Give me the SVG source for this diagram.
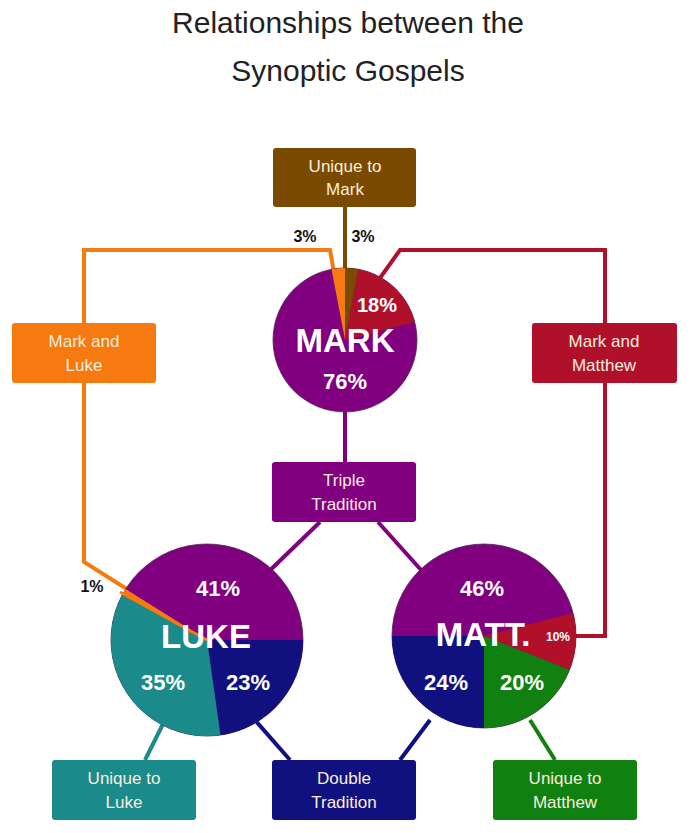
<svg xmlns="http://www.w3.org/2000/svg" width="692" height="833" viewBox="0 0 692 833">
<style>
.t{font-family:"Liberation Sans",Arial,sans-serif;text-anchor:middle}
.bx{font-size:17px;fill:#fbeede}
.p{fill:#fff;font-weight:bold}
.k{font-size:16px;font-weight:bold;fill:#111}
.c{fill:none;stroke-width:4}
.s{stroke:#4a2a4a;stroke-width:0.8}
</style>
<rect width="692" height="833" fill="#fff"/>
<text class="t" x="348" y="33" font-size="30" fill="#222">Relationships between the</text>
<text class="t" x="348" y="81" font-size="30" fill="#222">Synoptic Gospels</text>
<g id="connectors">
<polyline class="c" stroke="#f67a10" points="84,323 84,250 330,250 337,290"/>
<polyline class="c" stroke="#f67a10" points="84,383 84,562 160,610"/>
<polyline class="c" stroke="#7a4a00" points="345,207 345,290"/>
<polyline class="c" stroke="#b0102a" points="375,285 400,250 605,250 605,323"/>
<polyline class="c" stroke="#b0102a" points="605,383 605,636 570,636"/>
<polyline class="c" stroke="#800080" points="345,400 345,462"/>
<polyline class="c" stroke="#800080" points="320,522 260,580"/>
<polyline class="c" stroke="#800080" points="378,522 430,580"/>
<polyline class="c" stroke="#1a8a8a" points="165,720 145,760"/>
<polyline class="c" stroke="#10107f" points="255,720 290,760"/>
<polyline class="c" stroke="#10107f" points="430,720 400,760"/>
<polyline class="c" stroke="#108010" points="530,720 555,760"/>
</g>
<g id="mark">
<circle cx="345" cy="340" r="72" fill="#800080" class="s"/>
<path d="M345,340 L331.5,269.3 A72,72 0 0 1 345,268 Z" fill="#f67a10"/>
<path d="M345,340 L345,268 A72,72 0 0 1 358.5,269.3 Z" fill="#7a4a00"/>
<path d="M345,340 L358.5,269.3 A72,72 0 0 1 414.7,322.1 Z" fill="#b0102a"/>
<text class="t p" x="377" y="312" font-size="20">18%</text>
<text class="t p" x="345" y="352" font-size="33">MARK</text>
<text class="t p" x="345" y="389" font-size="22">76%</text>
</g>
<g id="luke">
<circle cx="207" cy="640" r="96" fill="#800080" class="s"/>
<path d="M207,640 L303,640 A96,96 0 0 1 220.4,735.1 Z" fill="#10107f"/>
<path d="M207,640 L220.4,735.1 A96,96 0 0 1 122.2,595 Z" fill="#1a8a8a"/>
<path d="M207,640 L122.2,595 A96,96 0 0 1 125.6,589.1 Z" fill="#f67a10"/>
<line x1="120" y1="592" x2="207" y2="640" stroke="#f67a10" stroke-width="3"/>
<text class="t p" x="218" y="596" font-size="22">41%</text>
<text class="t p" x="206" y="648" font-size="33">LUKE</text>
<text class="t p" x="163" y="690" font-size="22">35%</text>
<text class="t p" x="248" y="690" font-size="22">23%</text>
</g>
<g id="matt">
<circle cx="484" cy="636" r="92" fill="#800080" class="s"/>
<path d="M484,636 L573.1,613 A92,92 0 0 1 569.5,669.8 Z" fill="#b0102a"/>
<path d="M484,636 L569.5,669.8 A92,92 0 0 1 484,728 Z" fill="#108010"/>
<path d="M484,636 L484,728 A92,92 0 0 1 392,636 Z" fill="#10107f"/>
<text class="t p" x="482" y="596" font-size="22">46%</text>
<text class="t p" x="483" y="646" font-size="33">MATT.</text>
<text class="t p" x="558" y="641" font-size="12">10%</text>
<text class="t p" x="446" y="690" font-size="22">24%</text>
<text class="t p" x="522" y="690" font-size="22">20%</text>
</g>
<g id="labels">
<text class="t k" x="305" y="242">3%</text>
<text class="t k" x="363" y="242">3%</text>
<text class="t k" x="92" y="592">1%</text>
</g>
<g id="unique-mark"><rect x="273" y="148" width="143" height="59" rx="3" fill="#7a4a00"/>
<text class="t bx" x="345" y="172">Unique to</text><text class="t bx" x="345" y="195">Mark</text></g>
<g id="mark-luke"><rect x="12" y="323" width="144" height="60" rx="3" fill="#f67a10"/>
<text class="t bx" x="84" y="347">Mark and</text><text class="t bx" x="84" y="371">Luke</text></g>
<g id="mark-matthew"><rect x="532" y="323" width="145" height="60" rx="3" fill="#b0102a"/>
<text class="t bx" x="604" y="347">Mark and</text><text class="t bx" x="604" y="371">Matthew</text></g>
<g id="triple"><rect x="272" y="462" width="144" height="60" rx="3" fill="#800080"/>
<text class="t bx" x="344" y="486">Triple</text><text class="t bx" x="344" y="510">Tradition</text></g>
<g id="unique-luke"><rect x="52" y="760" width="144" height="60" rx="3" fill="#1a8a8a"/>
<text class="t bx" x="124" y="784">Unique to</text><text class="t bx" x="124" y="808">Luke</text></g>
<g id="double"><rect x="272" y="760" width="144" height="60" rx="3" fill="#10107f"/>
<text class="t bx" x="344" y="784">Double</text><text class="t bx" x="344" y="808">Tradition</text></g>
<g id="unique-matthew"><rect x="493" y="760" width="144" height="60" rx="3" fill="#108010"/>
<text class="t bx" x="565" y="784">Unique to</text><text class="t bx" x="565" y="808">Matthew</text></g>
</svg>
